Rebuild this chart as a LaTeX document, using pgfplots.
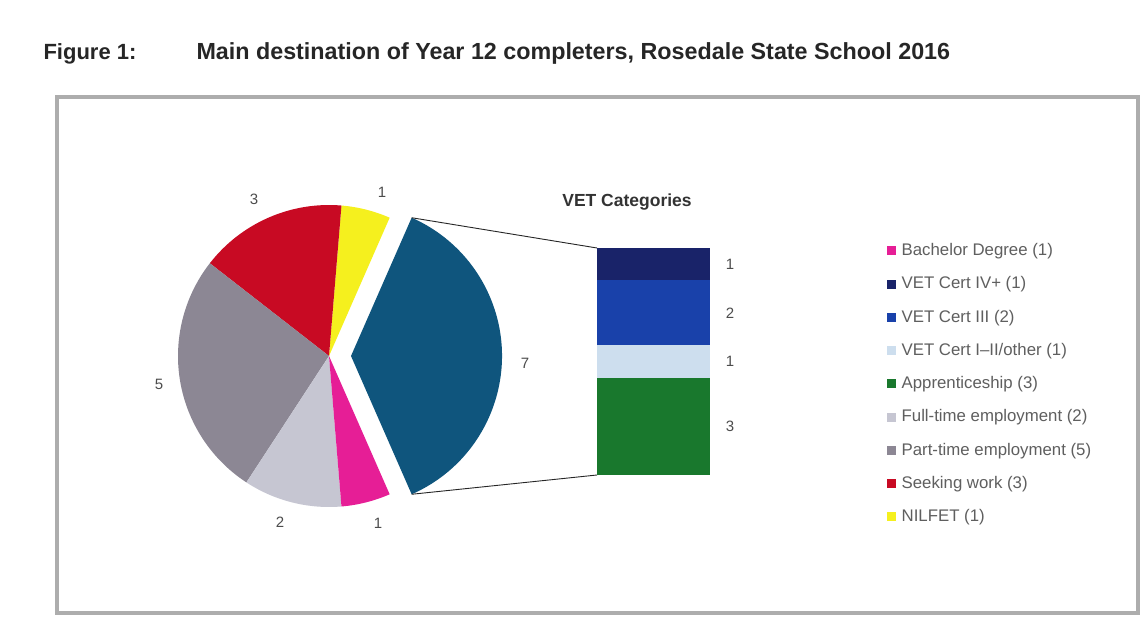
\documentclass[border=0pt]{standalone}
\usepackage{pgfplots}
\pgfplotsset{compat=1.18}
\usepackage{fontspec}
\setmainfont{Liberation Sans}
\definecolor{cNil}{RGB}{245,240,30}
\definecolor{cSeek}{RGB}{200,10,35}
\definecolor{cPart}{RGB}{140,135,148}
\definecolor{cFull}{RGB}{198,198,210}
\definecolor{cBach}{RGB}{230,30,150}
\definecolor{cVET}{RGB}{15,85,125}
\definecolor{cCertIV}{RGB}{25,35,105}
\definecolor{cCertIII}{RGB}{25,65,170}
\definecolor{cCertI}{RGB}{205,222,238}
\definecolor{cAppr}{RGB}{25,120,45}
\definecolor{txt}{RGB}{95,95,95}
\begin{document}
\begin{tikzpicture}
\fill[white] (0,0) rectangle (1146pt,626pt);
\path[use as bounding box] (0,0) rectangle (1146pt,626pt);
\begin{scope}[x=1pt,y=1pt]
\draw[black!32, line width=4pt] (57,13) rectangle (1138,529);
\node[anchor=base west, font=\fontsize{22}{26}\selectfont\bfseries, text=black!85] at (40,566) {Figure 1:};
\node[anchor=base west, font=\fontsize{23.3}{27}\selectfont\bfseries, text=black!85] at (193,566) {Main destination of Year 12 completers, Rosedale State School 2016};
\end{scope}

% ---------- pie ----------
\begin{axis}[at={(329pt,270pt)}, anchor=center, scale only axis,
  width=300pt, height=300pt, xmin=-150, xmax=150, ymin=-150, ymax=150,
  hide axis, clip=false]
\pgfplotsextra{
  \gdef\pieStart{66.3158}
  \foreach \v/\col in {1/cNil, 3/cSeek, 5/cPart, 2/cFull, 1/cBach} {
    \pgfmathsetmacro\pieEnd{\pieStart+\v*360/19}
    \fill[\col] (axis cs:0,0) -- ++(\pieStart:151pt)
       arc[start angle=\pieStart, end angle=\pieEnd, radius=151pt] -- cycle;
    \xdef\pieStart{\pieEnd}
  }
  \fill[cVET] (axis cs:22,0) -- ++(-66.3158:151pt)
     arc[start angle=-66.3158, end angle=66.3158, radius=151pt] -- cycle;
  \draw[black!85, line width=0.9pt] (axis cs:22,0) ++(66.3158:151pt) -- (axis cs:268,108);
  \draw[black!85, line width=0.9pt] (axis cs:22,0) ++(-66.3158:151pt) -- (axis cs:268,-119);
}
\end{axis}

% ---------- VET bar ----------
\begin{axis}[at={(597pt,151pt)}, anchor=south west, scale only axis,
  width=113pt, height=227pt, xmin=-0.5, xmax=0.5, ymin=0, ymax=7,
  hide axis, clip=false, ybar stacked, bar width=113pt,
  legend image code/.code={\fill[#1] (0pt,-2.5pt) rectangle (8pt,5.5pt);},
  legend style={at={(2.54,1.0264)}, anchor=north west, draw=none, fill=none,
    font=\fontsize{16.8}{19}\selectfont, text=txt, row sep=17.75pt,
    nodes={inner sep=0pt, text height=11.5pt, text depth=4pt},
    column sep=6pt},
  legend cell align=left]
\addplot[fill=cAppr, draw=none, forget plot] coordinates {(0,3)};
\addplot[fill=cCertI, draw=none, forget plot] coordinates {(0,1)};
\addplot[fill=cCertIII, draw=none, forget plot] coordinates {(0,2)};
\addplot[fill=cCertIV, draw=none, forget plot] coordinates {(0,1)};
\draw[white!70!cCertIII, line width=1pt] (axis cs:-0.5,6) -- (axis cs:0.5,6);
\node[font=\fontsize{15}{18}\selectfont, text=black!70] at (axis cs:0.5,6.5) [xshift=20pt] {1};
\node[font=\fontsize{15}{18}\selectfont, text=black!70] at (axis cs:0.5,5) [xshift=20pt] {2};
\node[font=\fontsize{15}{18}\selectfont, text=black!70] at (axis cs:0.5,3.5) [xshift=20pt] {1};
\node[font=\fontsize{15}{18}\selectfont, text=black!70] at (axis cs:0.5,1.5) [xshift=20pt] {3};
\addlegendimage{cBach}\addlegendentry{Bachelor Degree (1)}
\addlegendimage{cCertIV}\addlegendentry{VET Cert IV+ (1)}
\addlegendimage{cCertIII}\addlegendentry{VET Cert III (2)}
\addlegendimage{cCertI}\addlegendentry{VET Cert I--II/other (1)}
\addlegendimage{cAppr}\addlegendentry{Apprenticeship (3)}
\addlegendimage{cFull}\addlegendentry{Full-time employment (2)}
\addlegendimage{cPart}\addlegendentry{Part-time employment (5)}
\addlegendimage{cSeek}\addlegendentry{Seeking work (3)}
\addlegendimage{cNil}\addlegendentry{NILFET (1)}
\end{axis}

\begin{scope}[x=1pt,y=1pt]
\begin{scope}[every node/.style={font=\fontsize{15}{18}\selectfont, text=black!70}]
\node at (254,427) {3};
\node at (382,434) {1};
\node at (525,263) {7};
\node at (159,242) {5};
\node at (280,104) {2};
\node at (378,103) {1};
\end{scope}
\node[font=\fontsize{17.5}{20}\selectfont\bfseries, text=black!80] at (627,424) {VET Categories};
\end{scope}
\end{tikzpicture}
\end{document}
